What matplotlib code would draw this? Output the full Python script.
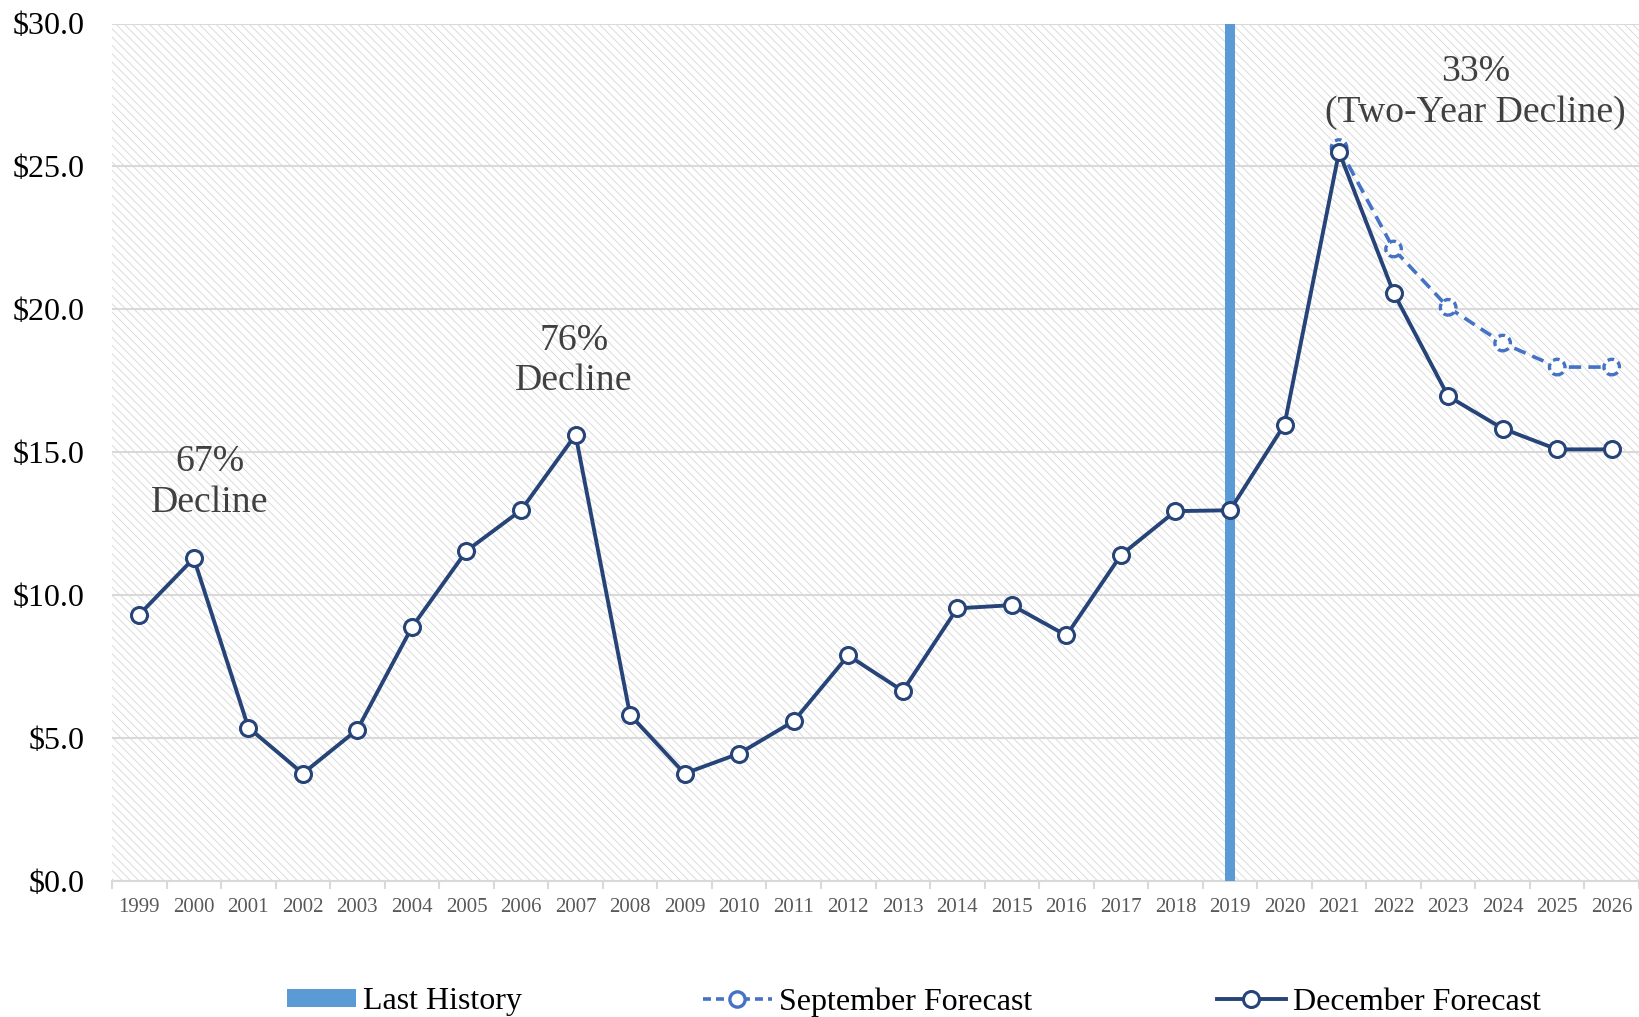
import matplotlib
matplotlib.use("Agg")
import matplotlib.pyplot as plt
from matplotlib.patches import Rectangle
from matplotlib.lines import Line2D

# Yearly values in dollars
years = list(range(1999, 2027))
december = [9.32, 11.29, 5.37, 3.76, 5.30, 8.88, 11.55, 12.97, 15.61, 5.81,
            3.76, 4.46, 5.59, 7.89, 6.65, 9.54, 9.65, 8.59, 11.40, 12.94,
            12.97, 15.97, 25.51, 20.58, 16.96, 15.83, 15.10, 15.10]
sept_years = [2021, 2022, 2023, 2024, 2025, 2026]
september = [25.66, 22.11, 20.07, 18.82, 17.98, 17.98]
last_history_year = 2019
last_history_value = 30.0

notes = ["67%\nDecline", "76%\nDecline", "33%\n(Two-Year Decline)"]
note_x = [2000.3, 2006.97, 2023.5]
note_y = [13.95, 18.2, 27.6]

yticks = [0, 5, 10, 15, 20, 25, 30]

NAVY = "#264478"
BLUE = "#4472c4"
LIGHT = "#5b9bd5"
GRID = "#d9d9d9"

plt.rcParams["font.family"] = ["Liberation Serif", "DejaVu Serif"]
plt.rcParams["hatch.linewidth"] = 0.6

fig = plt.figure(figsize=(16.39, 10.17), dpi=100)
ax = fig.add_axes([112 / 1639, 136 / 1017, 1 - 112 / 1639, (881 - 23.5) / 1017])

x = [y - years[0] for y in years]
xs = [y - years[0] for y in sept_years]

# diagonal hatched plot background
ax.patch.set_visible(False)
bg = Rectangle((0, 0), 1, 1, transform=ax.transAxes, facecolor="white",
               edgecolor="#d6d6d6", linewidth=0, hatch="\\\\\\\\", zorder=0)
ax.add_patch(bg)

ax.set_ylim(0, 30)
ax.set_xlim(-0.5, len(years) - 0.5)
ax.set_yticks(yticks)
ax.set_yticklabels([f"${v:.1f}" for v in yticks])
ax.yaxis.grid(True, color=GRID, linewidth=1.5, zorder=1)
ax.set_axisbelow(True)

ax.set_xticks(x)
ax.set_xticklabels([str(y) for y in years])
ax.set_xticks([i - 0.5 for i in range(len(years) + 1)], minor=True)
ax.tick_params(axis="x", which="major", length=0, pad=12, labelsize=15, labelcolor="#595959")
ax.tick_params(axis="x", which="minor", length=6, width=1.5, color=GRID)
ax.tick_params(axis="y", length=0, pad=20, labelsize=23, labelcolor="black")

for s in ["top", "right", "left"]:
    ax.spines[s].set_visible(False)
ax.spines["bottom"].set_color(GRID)
ax.spines["bottom"].set_linewidth(1.5)

# last history marker bar
ax.bar([last_history_year - years[0]], [last_history_value], width=0.185,
       color=LIGHT, zorder=3, label="Last History")

# september forecast: dashed line with dashed open markers
ax.plot(xs, september, color=BLUE, lw=2.6, dashes=(3.4, 2.0), zorder=4)
ax.scatter(xs, september, s=125, facecolor="white", edgecolor=BLUE,
           linewidths=2.4, linestyle=(0, (2.0, 1.3)), zorder=5)

# december forecast
ax.plot(x, december, color=NAVY, lw=2.8, marker="o", ms=11.5,
        mfc="white", mec=NAVY, mew=2.2, zorder=6)

for t, nx, ny in zip(notes, note_x, note_y):
    ax.text(nx - years[0], ny, t, ha="center", va="center", fontsize=27.2,
            color="#404040", linespacing=1.22, zorder=7)

# legend entries placed along the bottom
leg_y = 1 - 1002 / 1017
common = dict(loc="center left", frameon=False, fontsize=23, borderpad=0,
              borderaxespad=0, handletextpad=0.22, handlelength=2.15)
bar_handle = Rectangle((0, 0), 1, 1, facecolor=LIGHT, edgecolor="none")
fig.legend([bar_handle], ["Last History"], bbox_to_anchor=(287 / 1639, leg_y),
           handleheight=0.47, **common)
sept_leg = Line2D([], [], color=BLUE, lw=2.6, dashes=(2.2, 1.4), marker="o",
                  ms=11, mfc="white", mec=BLUE, mew=2.4)
fig.legend([sept_leg], ["September Forecast"],
           bbox_to_anchor=(703 / 1639, leg_y), **common)
dec_leg = Line2D([], [], color=NAVY, lw=2.8, marker="o", ms=11.5,
                 mfc="white", mec=NAVY, mew=2.2)
fig.legend([dec_leg], ["December Forecast"],
           bbox_to_anchor=(1217 / 1639, leg_y), **common)

fig.savefig("out.png", dpi=100)
